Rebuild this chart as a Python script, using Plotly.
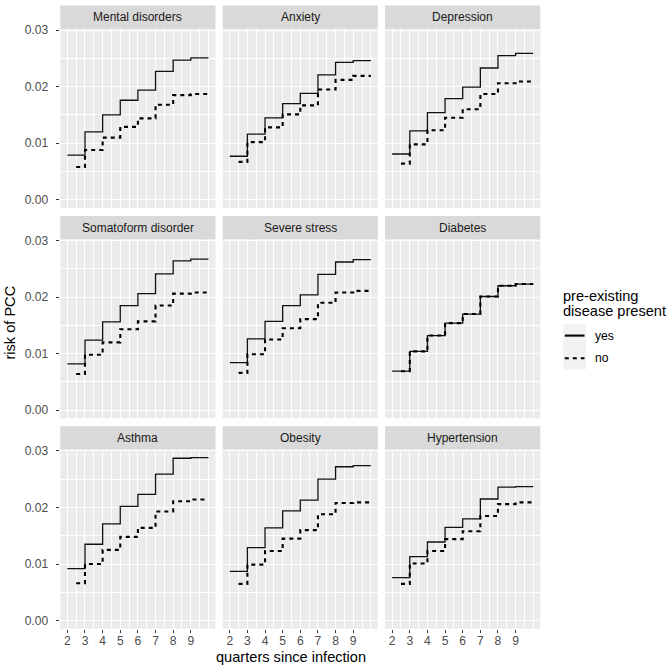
import plotly.graph_objects as go

# ---------------- data ----------------
panel_titles = ["Mental disorders", "Anxiety", "Depression",
                "Somatoform disorder", "Severe stress", "Diabetes",
                "Asthma", "Obesity", "Hypertension"]

quarters_yes = [2, 3, 4, 5, 6, 7, 8, 9, 10]
quarters_no = [2.5, 3, 4, 5, 6, 7, 8, 9, 10]

mental_yes = [0.0079, 0.0120, 0.0150, 0.0176, 0.0194, 0.0227, 0.0247, 0.0251]
mental_no = [0.0058, 0.0088, 0.0110, 0.0129, 0.0144, 0.0168, 0.0185, 0.0187]
anxiety_yes = [0.0077, 0.0116, 0.0145, 0.0170, 0.0188, 0.0221, 0.0243, 0.0246]
anxiety_no = [0.0067, 0.0102, 0.0128, 0.0151, 0.0167, 0.0195, 0.0212, 0.0219]
depression_yes = [0.0081, 0.0122, 0.0154, 0.0179, 0.0199, 0.0233, 0.0255, 0.0259]
depression_no = [0.0064, 0.0098, 0.0123, 0.0145, 0.0160, 0.0187, 0.0206, 0.0209]
somatoform_yes = [0.0082, 0.0124, 0.0156, 0.0185, 0.0206, 0.0241, 0.0264, 0.0267]
somatoform_no = [0.0064, 0.0098, 0.0120, 0.0143, 0.0157, 0.0185, 0.0206, 0.0208]
stress_yes = [0.0084, 0.0126, 0.0157, 0.0185, 0.0204, 0.0240, 0.0262, 0.0266]
stress_no = [0.0066, 0.0099, 0.0125, 0.0145, 0.0161, 0.0190, 0.0208, 0.0211]
diabetes_yes = [0.0069, 0.0104, 0.0132, 0.0154, 0.0170, 0.0201, 0.0220, 0.0223]
diabetes_no = [0.0069, 0.0104, 0.0132, 0.0154, 0.0170, 0.0201, 0.0220, 0.0223]
asthma_yes = [0.0092, 0.0135, 0.0171, 0.0202, 0.0223, 0.0259, 0.0287, 0.0288]
asthma_no = [0.0066, 0.0100, 0.0125, 0.0148, 0.0164, 0.0193, 0.0211, 0.0214]
obesity_yes = [0.0087, 0.0129, 0.0164, 0.0194, 0.0213, 0.0250, 0.0272, 0.0274]
obesity_no = [0.0065, 0.0099, 0.0123, 0.0145, 0.0160, 0.0188, 0.0208, 0.0209]
hypertension_yes = [0.0076, 0.0113, 0.0139, 0.0165, 0.0180, 0.0215, 0.0236, 0.0237]
hypertension_no = [0.0065, 0.0101, 0.0123, 0.0144, 0.0158, 0.0185, 0.0206, 0.0209]

yes_series = [mental_yes, anxiety_yes, depression_yes, somatoform_yes, stress_yes,
              diabetes_yes, asthma_yes, obesity_yes, hypertension_yes]
no_series = [mental_no, anxiety_no, depression_no, somatoform_no, stress_no,
             diabetes_no, asthma_no, obesity_no, hypertension_no]

x_ticks = [2, 3, 4, 5, 6, 7, 8, 9]
x_minor = [2.5, 3.5, 4.5, 5.5, 6.5, 7.5, 8.5, 9.5, 10]
y_ticks = [0.0, 0.01, 0.02, 0.03]
y_minor = [0.005, 0.015, 0.025]
legend_title_lines = ["pre-existing", "disease present"]
legend_labels = ["yes", "no"]

# ---------------- layout geometry (pixels) ----------------
W, H = 667, 666
FONT = "Liberation Sans, Arial, sans-serif"
SMALL = 12.1
col_left = [60.3, 222.7, 385.1]
col_w = 155.2
row_top = [23.9, 235.9, 447.9]
panel_h = 180.6
strip_h = 23.4
x_range = [1.6, 10.4]
y_range = [-0.00144, 0.03024]
DASH = "4px,4px"


def fx(px):
    return px / W


def fy(py):
    return 1 - py / H


fig = go.Figure()
shapes = []
annotations = []

for i, title in enumerate(panel_titles):
    r, c = divmod(i, 3)
    n = "" if i == 0 else str(i + 1)
    xa, ya = "x" + n, "y" + n
    yv = yes_series[i] + [yes_series[i][-1]]
    nv = no_series[i] + [no_series[i][-1]]
    fig.add_trace(go.Scatter(x=quarters_yes, y=yv, mode="lines", line_shape="hv",
                             line=dict(color="#111111", width=1.3),
                             xaxis=xa, yaxis=ya, showlegend=False, name="yes"))
    fig.add_trace(go.Scatter(x=quarters_no, y=nv, mode="lines", line_shape="hv",
                             line=dict(color="black", width=2.1, dash=DASH),
                             xaxis=xa, yaxis=ya, showlegend=False, name="no"))
    left = col_left[c]
    top = row_top[r]
    xaxis = dict(domain=[fx(left), fx(left + col_w)], range=x_range, anchor=ya,
                 tickmode="array", tickvals=x_ticks, ticktext=[str(t) for t in x_ticks],
                 showgrid=True, gridcolor="white", gridwidth=1.4, zeroline=False,
                 showline=False,
                 minor=dict(tickmode="array", tickvals=x_minor, showgrid=True,
                            gridcolor="white", gridwidth=1.0, ticks=""),
                 tickfont=dict(family=FONT, size=SMALL, color="#4D4D4D"),
                 ticks="outside" if r == 2 else "", ticklen=3.7, tickwidth=1.1,
                 tickcolor="#333333", showticklabels=(r == 2), ticklabelstandoff=-3)
    yaxis = dict(domain=[fy(top + panel_h), fy(top)], range=y_range, anchor=xa,
                 tickmode="array", tickvals=y_ticks, tickformat=".2f",
                 showgrid=True, gridcolor="white", gridwidth=1.4, zeroline=False,
                 showline=False,
                 minor=dict(tickmode="array", tickvals=y_minor, showgrid=True,
                            gridcolor="white", gridwidth=1.0, ticks=""),
                 tickfont=dict(family=FONT, size=SMALL, color="#4D4D4D"),
                 ticks="outside" if c == 0 else "", ticklen=3.7, tickwidth=1.1,
                 tickcolor="#333333", showticklabels=(c == 0), ticklabelstandoff=5)
    fig.update_layout(**{"xaxis" + n: xaxis, "yaxis" + n: yaxis})
    # panel background
    shapes.append(dict(type="rect", xref="paper", yref="paper", layer="below",
                       x0=fx(left), x1=fx(left + col_w), y0=fy(top + panel_h), y1=fy(top),
                       fillcolor="#EBEBEB", line=dict(width=0)))
    # strip
    shapes.append(dict(type="rect", xref="paper", yref="paper", layer="below",
                       x0=fx(left), x1=fx(left + col_w), y0=fy(top), y1=fy(top - strip_h),
                       fillcolor="#D9D9D9", line=dict(width=0)))
    annotations.append(dict(text=title, xref="paper", yref="paper",
                            x=fx(left + col_w / 2), y=fy(top - strip_h / 2),
                            xanchor="center", yanchor="middle", showarrow=False,
                            font=dict(family=FONT, size=12, color="#1A1A1A")))

# axis titles
annotations.append(dict(text="quarters since infection", xref="paper", yref="paper",
                        x=fx(291), y=fy(657), xanchor="center", yanchor="middle",
                        showarrow=False, font=dict(family=FONT, size=14.6, color="black")))
annotations.append(dict(text="risk of PCC", xref="paper", yref="paper",
                        x=fx(10), y=fy(320), xanchor="center", yanchor="middle",
                        textangle=-90, showarrow=False,
                        font=dict(family=FONT, size=14.6, color="black")))

# legend (drawn manually in ggplot style)
for j, line_text in enumerate(legend_title_lines):
    annotations.append(dict(text=line_text, xref="paper", yref="paper",
                            x=fx(561), y=fy(293 + 15.5 * j), xanchor="left", yanchor="middle",
                            showarrow=False, font=dict(family=FONT, size=14.6, color="black")))
key_x0, key_x1 = 563.3, 586.0
key_top, key_h = 321.7, 22.8
dashes = ["solid", DASH]
for k, lab in enumerate(legend_labels):
    y0 = key_top + k * key_h
    yc = y0 + key_h / 2
    shapes.append(dict(type="rect", xref="paper", yref="paper", layer="below",
                       x0=fx(key_x0), x1=fx(key_x1), y0=fy(y0 + key_h), y1=fy(y0),
                       fillcolor="#F2F2F2", line=dict(width=0)))
    shapes.append(dict(type="line", xref="paper", yref="paper",
                       x0=fx(key_x0 + 1.5), x1=fx(key_x1 - 1.5), y0=fy(yc), y1=fy(yc),
                       line=dict(color="black", width=2.1, dash=dashes[k])))
    annotations.append(dict(text=lab, xref="paper", yref="paper",
                            x=fx(592.5), y=fy(yc), xanchor="left", yanchor="middle",
                            showarrow=False,
                            font=dict(family=FONT, size=SMALL, color="black")))

fig.update_layout(width=W, height=H, margin=dict(l=0, r=0, t=0, b=0),
                  paper_bgcolor="white", plot_bgcolor="rgba(0,0,0,0)",
                  shapes=shapes, annotations=annotations, showlegend=False)

fig.write_html("out.html", config={"displayModeBar": False},
               post_script="document.body.style.margin='0px';document.body.style.padding='0px';")
